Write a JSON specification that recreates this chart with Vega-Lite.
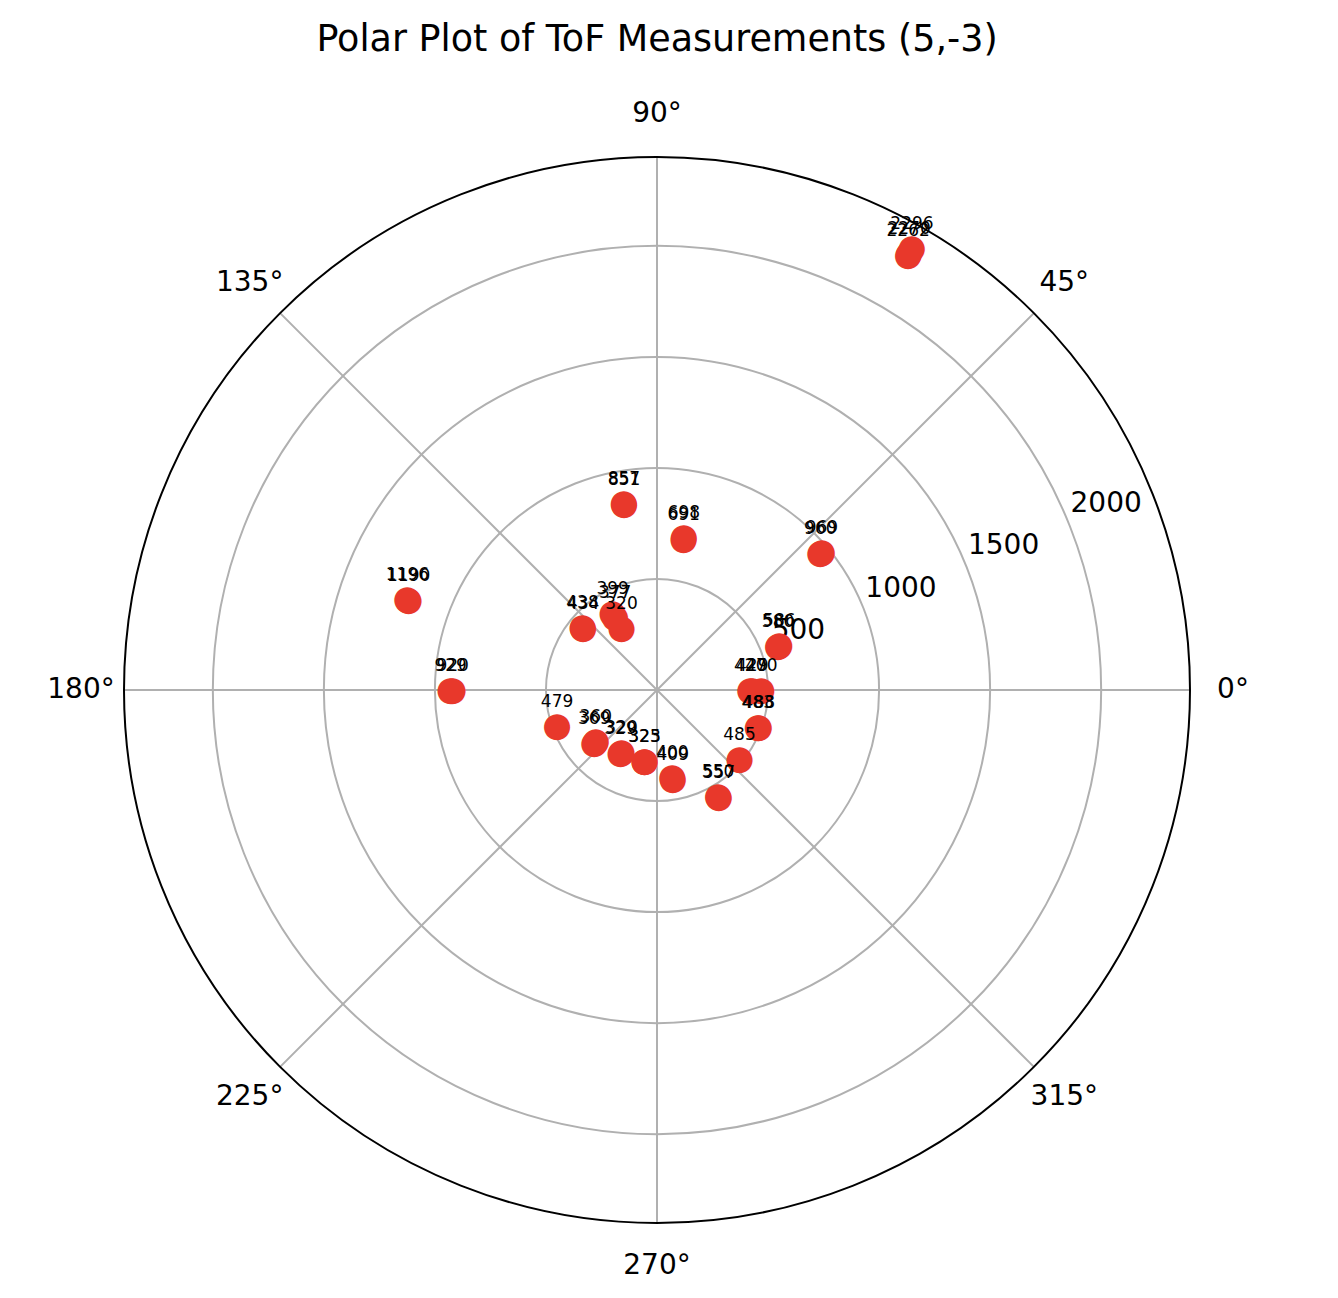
{
  "$schema": "https://vega.github.io/schema/vega-lite/v6.json",
  "width": 1066,
  "height": 1066,
  "autosize": {"type": "none"},
  "padding": {"left": 124, "top": 157, "right": 148, "bottom": 75},
  "background": "white",
  "view": {"stroke": null},
  "title": {
    "text": "Polar Plot of ToF Measurements (5,-3)",
    "font": "DejaVu Sans",
    "fontSize": 36.5,
    "fontWeight": "normal",
    "color": "#000000",
    "baseline": "alphabetic",
    "offset": 13,
    "anchor": "middle"
  },
  "datasets": {
    "points": [
      {"angle": 0, "tof": 420}, {"angle": 0, "tof": 429}, {"angle": 0, "tof": 470},
      {"angle": 20, "tof": 580}, {"angle": 20, "tof": 586},
      {"angle": 40, "tof": 960}, {"angle": 40, "tof": 969},
      {"angle": 60, "tof": 2262}, {"angle": 60, "tof": 2270}, {"angle": 60, "tof": 2296},
      {"angle": 80, "tof": 691}, {"angle": 80, "tof": 698},
      {"angle": 100, "tof": 851}, {"angle": 100, "tof": 857},
      {"angle": 120, "tof": 320}, {"angle": 120, "tof": 377}, {"angle": 120, "tof": 399},
      {"angle": 140, "tof": 434}, {"angle": 140, "tof": 438},
      {"angle": 160, "tof": 1190}, {"angle": 160, "tof": 1196},
      {"angle": 180, "tof": 920}, {"angle": 180, "tof": 929},
      {"angle": 200, "tof": 479},
      {"angle": 220, "tof": 360}, {"angle": 220, "tof": 369},
      {"angle": 240, "tof": 320}, {"angle": 240, "tof": 329},
      {"angle": 260, "tof": 323}, {"angle": 260, "tof": 325},
      {"angle": 280, "tof": 400}, {"angle": 280, "tof": 409},
      {"angle": 300, "tof": 550}, {"angle": 300, "tof": 557},
      {"angle": 320, "tof": 485},
      {"angle": 340, "tof": 483}, {"angle": 340, "tof": 488}
    ],
    "rings": [{"r": 500}, {"r": 1000}, {"r": 1500}, {"r": 2000}],
    "outer": [{"r": 2400}],
    "spokes": [
      {"a": 0, "label": "0°"}, {"a": 45, "label": "45°"}, {"a": 90, "label": "90°"},
      {"a": 135, "label": "135°"}, {"a": 180, "label": "180°"}, {"a": 225, "label": "225°"},
      {"a": 270, "label": "270°"}, {"a": 315, "label": "315°"}
    ],
    "rticks": [
      {"r": 500, "a": 22.5}, {"r": 1000, "a": 22.5}, {"r": 1500, "a": 22.5}, {"r": 2000, "a": 22.5}
    ]
  },
  "layer": [
    {
      "data": {"name": "rings"},
      "mark": {"type": "arc", "theta": 0, "theta2": 6.2832, "filled": false, "stroke": "#b0b0b0", "strokeWidth": 2},
      "encoding": {
        "radius": {"field": "r", "type": "quantitative", "stack": null, "scale": {"type": "linear", "domain": [0, 2400], "range": [0, 533], "zero": true}}
      }
    },
    {
      "data": {"name": "spokes"},
      "mark": {"type": "arc", "filled": false, "stroke": "#b0b0b0", "strokeWidth": 2},
      "encoding": {
        "theta": {"field": "a", "type": "quantitative", "stack": null, "scale": {"type": "linear", "domain": [0, 360], "range": [1.5707963, -4.712389], "zero": false}},
        "theta2": {"field": "a"},
        "radius": {"datum": 2400, "type": "quantitative", "stack": null, "scale": {"type": "linear", "domain": [0, 2400], "range": [0, 533], "zero": true}}
      }
    },
    {
      "data": {"name": "outer"},
      "mark": {"type": "arc", "theta": 0, "theta2": 6.2832, "filled": false, "stroke": "#000000", "strokeWidth": 2},
      "encoding": {
        "radius": {"field": "r", "type": "quantitative", "stack": null, "scale": {"type": "linear", "domain": [0, 2400], "range": [0, 533], "zero": true}}
      }
    },
    {
      "data": {"name": "spokes"},
      "mark": {"type": "text", "font": "DejaVu Sans", "fontSize": 28, "color": "#000000", "align": "center", "baseline": "middle", "radiusOffset": 43},
      "encoding": {
        "theta": {"field": "a", "type": "quantitative", "stack": null, "scale": {"type": "linear", "domain": [0, 360], "range": [1.5707963, -4.712389], "zero": false}},
        "radius": {"datum": 2400, "type": "quantitative", "stack": null, "scale": {"type": "linear", "domain": [0, 2400], "range": [0, 533], "zero": true}},
        "text": {"field": "label"}
      }
    },
    {
      "data": {"name": "rticks"},
      "mark": {"type": "text", "font": "DejaVu Sans", "fontSize": 28, "color": "#000000", "align": "center", "baseline": "middle", "radiusOffset": 42},
      "encoding": {
        "theta": {"field": "a", "type": "quantitative", "stack": null, "scale": {"type": "linear", "domain": [0, 360], "range": [1.5707963, -4.712389], "zero": false}},
        "radius": {"field": "r", "type": "quantitative", "stack": null, "scale": {"type": "linear", "domain": [0, 2400], "range": [0, 533], "zero": true}},
        "text": {"field": "r", "type": "quantitative", "format": "d"}
      }
    },
    {
      "data": {"name": "points"},
      "mark": {"type": "text", "font": "DejaVu Sans", "fontSize": 34, "color": "#e8382b", "align": "center", "baseline": "middle"},
      "encoding": {
        "theta": {"field": "angle", "type": "quantitative", "stack": null, "scale": {"type": "linear", "domain": [0, 360], "range": [1.5707963, -4.712389], "zero": false}},
        "radius": {"field": "tof", "type": "quantitative", "stack": null, "scale": {"type": "linear", "domain": [0, 2400], "range": [0, 533], "zero": true}},
        "text": {"value": "●"}
      }
    },
    {
      "data": {"name": "points"},
      "mark": {"type": "text", "font": "DejaVu Sans", "fontSize": 17, "color": "#000000", "align": "center", "baseline": "alphabetic", "dy": -19},
      "encoding": {
        "theta": {"field": "angle", "type": "quantitative", "stack": null, "scale": {"type": "linear", "domain": [0, 360], "range": [1.5707963, -4.712389], "zero": false}},
        "radius": {"field": "tof", "type": "quantitative", "stack": null, "scale": {"type": "linear", "domain": [0, 2400], "range": [0, 533], "zero": true}},
        "text": {"field": "tof", "type": "quantitative", "format": "d"}
      }
    }
  ]
}
